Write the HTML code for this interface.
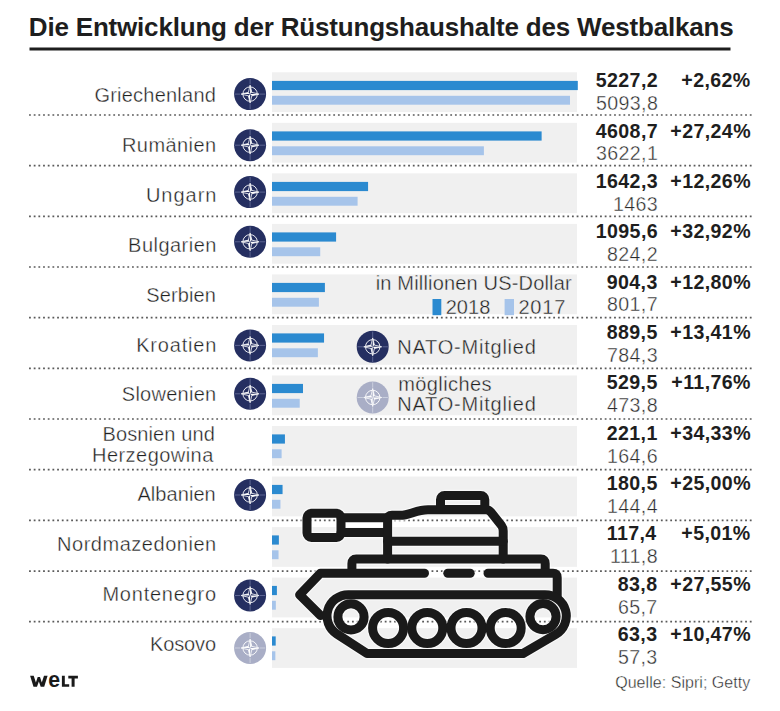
<!DOCTYPE html>
<html><head><meta charset="utf-8"><style>
html,body{margin:0;padding:0;background:#fff;}
body{width:780px;height:711px;overflow:hidden;}
svg{display:block;}
text{font-family:"Liberation Sans",sans-serif;}
</style></head><body>
<svg width="780" height="711" viewBox="0 0 780 711">
<rect x="29.5" y="47.5" width="701" height="3" fill="#1e1e1e"/>
<rect x="272" y="72.30" width="305" height="39.8" fill="#f0f0f0"/>
<rect x="272" y="122.83" width="305" height="39.8" fill="#f0f0f0"/>
<rect x="272" y="173.36" width="305" height="39.8" fill="#f0f0f0"/>
<rect x="272" y="223.89" width="305" height="39.8" fill="#f0f0f0"/>
<rect x="272" y="274.42" width="305" height="39.8" fill="#f0f0f0"/>
<rect x="272" y="324.95" width="305" height="39.8" fill="#f0f0f0"/>
<rect x="272" y="375.48" width="305" height="39.8" fill="#f0f0f0"/>
<rect x="272" y="426.01" width="305" height="39.8" fill="#f0f0f0"/>
<rect x="272" y="476.54" width="305" height="39.8" fill="#f0f0f0"/>
<rect x="272" y="527.07" width="305" height="39.8" fill="#f0f0f0"/>
<rect x="272" y="577.60" width="305" height="39.8" fill="#f0f0f0"/>
<rect x="272" y="628.13" width="305" height="39.8" fill="#f0f0f0"/>
<line x1="29.04" y1="115.00" x2="752" y2="115.00" stroke="#5a5a5a" stroke-width="1.7" stroke-dasharray="1.8 2.8803"/>
<line x1="29.04" y1="165.67" x2="752" y2="165.67" stroke="#5a5a5a" stroke-width="1.7" stroke-dasharray="1.8 2.8803"/>
<line x1="29.04" y1="216.34" x2="752" y2="216.34" stroke="#5a5a5a" stroke-width="1.7" stroke-dasharray="1.8 2.8803"/>
<line x1="29.04" y1="267.01" x2="752" y2="267.01" stroke="#5a5a5a" stroke-width="1.7" stroke-dasharray="1.8 2.8803"/>
<line x1="29.04" y1="317.68" x2="752" y2="317.68" stroke="#5a5a5a" stroke-width="1.7" stroke-dasharray="1.8 2.8803"/>
<line x1="29.04" y1="368.35" x2="752" y2="368.35" stroke="#5a5a5a" stroke-width="1.7" stroke-dasharray="1.8 2.8803"/>
<line x1="29.04" y1="419.02" x2="752" y2="419.02" stroke="#5a5a5a" stroke-width="1.7" stroke-dasharray="1.8 2.8803"/>
<line x1="29.04" y1="469.69" x2="752" y2="469.69" stroke="#5a5a5a" stroke-width="1.7" stroke-dasharray="1.8 2.8803"/>
<line x1="29.04" y1="520.36" x2="752" y2="520.36" stroke="#5a5a5a" stroke-width="1.7" stroke-dasharray="1.8 2.8803"/>
<line x1="29.04" y1="571.03" x2="752" y2="571.03" stroke="#5a5a5a" stroke-width="1.7" stroke-dasharray="1.8 2.8803"/>
<line x1="29.04" y1="621.70" x2="752" y2="621.70" stroke="#5a5a5a" stroke-width="1.7" stroke-dasharray="1.8 2.8803"/>
<rect x="272" y="80.90" width="305.80" height="9.2" fill="#2b8ad0"/>
<rect x="272" y="95.80" width="298.00" height="8.9" fill="#a6c4ea"/>
<circle cx="250.1" cy="94.1" r="16" fill="#252f61"/><path d="M250.1,78.89999999999999V84.3M250.1,103.89999999999999V109.3M234.9,94.1H240.29999999999998M259.9,94.1H265.3" stroke="#6f77a3" stroke-width="0.75"/><circle cx="250.1" cy="94.1" r="7.2" fill="none" stroke="#fff" stroke-width="0.9"/><path d="M250.1,85.1L251.79999999999998,92.39999999999999L259.1,94.1L251.79999999999998,95.8L250.1,103.1L248.4,95.8L241.1,94.1L248.4,92.39999999999999Z" fill="#252f61" stroke="#fff" stroke-width="0.8" stroke-linejoin="miter"/><path d="M250.1,94.1L250.1,85.1L251.79999999999998,92.39999999999999Z M250.1,94.1L259.1,94.1L251.79999999999998,95.8Z M250.1,94.1L250.1,103.1L248.4,95.8Z M250.1,94.1L241.1,94.1L248.4,92.39999999999999Z" fill="#fff"/>
<rect x="272" y="131.40" width="269.62" height="9.2" fill="#2b8ad0"/>
<rect x="272" y="146.30" width="211.90" height="8.9" fill="#a6c4ea"/>
<circle cx="250.1" cy="145.2" r="16" fill="#252f61"/><path d="M250.1,130.0V135.39999999999998M250.1,155.0V160.39999999999998M234.9,145.2H240.29999999999998M259.9,145.2H265.3" stroke="#6f77a3" stroke-width="0.75"/><circle cx="250.1" cy="145.2" r="7.2" fill="none" stroke="#fff" stroke-width="0.9"/><path d="M250.1,136.2L251.79999999999998,143.5L259.1,145.2L251.79999999999998,146.89999999999998L250.1,154.2L248.4,146.89999999999998L241.1,145.2L248.4,143.5Z" fill="#252f61" stroke="#fff" stroke-width="0.8" stroke-linejoin="miter"/><path d="M250.1,145.2L250.1,136.2L251.79999999999998,143.5Z M250.1,145.2L259.1,145.2L251.79999999999998,146.89999999999998Z M250.1,145.2L250.1,154.2L248.4,146.89999999999998Z M250.1,145.2L241.1,145.2L248.4,143.5Z" fill="#fff"/>
<rect x="272" y="181.90" width="96.08" height="9.2" fill="#2b8ad0"/>
<rect x="272" y="196.80" width="85.59" height="8.9" fill="#a6c4ea"/>
<circle cx="250.1" cy="192.1" r="16" fill="#252f61"/><path d="M250.1,176.9V182.29999999999998M250.1,201.9V207.29999999999998M234.9,192.1H240.29999999999998M259.9,192.1H265.3" stroke="#6f77a3" stroke-width="0.75"/><circle cx="250.1" cy="192.1" r="7.2" fill="none" stroke="#fff" stroke-width="0.9"/><path d="M250.1,183.1L251.79999999999998,190.4L259.1,192.1L251.79999999999998,193.79999999999998L250.1,201.1L248.4,193.79999999999998L241.1,192.1L248.4,190.4Z" fill="#252f61" stroke="#fff" stroke-width="0.8" stroke-linejoin="miter"/><path d="M250.1,192.1L250.1,183.1L251.79999999999998,190.4Z M250.1,192.1L259.1,192.1L251.79999999999998,193.79999999999998Z M250.1,192.1L250.1,201.1L248.4,193.79999999999998Z M250.1,192.1L241.1,192.1L248.4,190.4Z" fill="#fff"/>
<rect x="272" y="232.40" width="64.09" height="9.2" fill="#2b8ad0"/>
<rect x="272" y="247.30" width="48.22" height="8.9" fill="#a6c4ea"/>
<circle cx="250.1" cy="241.8" r="16" fill="#252f61"/><path d="M250.1,226.60000000000002V232.0M250.1,251.60000000000002V257.0M234.9,241.8H240.29999999999998M259.9,241.8H265.3" stroke="#6f77a3" stroke-width="0.75"/><circle cx="250.1" cy="241.8" r="7.2" fill="none" stroke="#fff" stroke-width="0.9"/><path d="M250.1,232.8L251.79999999999998,240.10000000000002L259.1,241.8L251.79999999999998,243.5L250.1,250.8L248.4,243.5L241.1,241.8L248.4,240.10000000000002Z" fill="#252f61" stroke="#fff" stroke-width="0.8" stroke-linejoin="miter"/><path d="M250.1,241.8L250.1,232.8L251.79999999999998,240.10000000000002Z M250.1,241.8L259.1,241.8L251.79999999999998,243.5Z M250.1,241.8L250.1,250.8L248.4,243.5Z M250.1,241.8L241.1,241.8L248.4,240.10000000000002Z" fill="#fff"/>
<rect x="272" y="282.90" width="52.90" height="9.2" fill="#2b8ad0"/>
<rect x="272" y="297.80" width="46.90" height="8.9" fill="#a6c4ea"/>
<rect x="272" y="333.40" width="52.04" height="9.2" fill="#2b8ad0"/>
<rect x="272" y="348.30" width="45.88" height="8.9" fill="#a6c4ea"/>
<circle cx="250.1" cy="345.4" r="16" fill="#252f61"/><path d="M250.1,330.2V335.59999999999997M250.1,355.2V360.59999999999997M234.9,345.4H240.29999999999998M259.9,345.4H265.3" stroke="#6f77a3" stroke-width="0.75"/><circle cx="250.1" cy="345.4" r="7.2" fill="none" stroke="#fff" stroke-width="0.9"/><path d="M250.1,336.4L251.79999999999998,343.7L259.1,345.4L251.79999999999998,347.09999999999997L250.1,354.4L248.4,347.09999999999997L241.1,345.4L248.4,343.7Z" fill="#252f61" stroke="#fff" stroke-width="0.8" stroke-linejoin="miter"/><path d="M250.1,345.4L250.1,336.4L251.79999999999998,343.7Z M250.1,345.4L259.1,345.4L251.79999999999998,347.09999999999997Z M250.1,345.4L250.1,354.4L248.4,347.09999999999997Z M250.1,345.4L241.1,345.4L248.4,343.7Z" fill="#fff"/>
<rect x="272" y="383.90" width="30.98" height="9.2" fill="#2b8ad0"/>
<rect x="272" y="398.80" width="27.72" height="8.9" fill="#a6c4ea"/>
<circle cx="250.1" cy="393.8" r="16" fill="#252f61"/><path d="M250.1,378.6V384.0M250.1,403.6V409.0M234.9,393.8H240.29999999999998M259.9,393.8H265.3" stroke="#6f77a3" stroke-width="0.75"/><circle cx="250.1" cy="393.8" r="7.2" fill="none" stroke="#fff" stroke-width="0.9"/><path d="M250.1,384.8L251.79999999999998,392.1L259.1,393.8L251.79999999999998,395.5L250.1,402.8L248.4,395.5L241.1,393.8L248.4,392.1Z" fill="#252f61" stroke="#fff" stroke-width="0.8" stroke-linejoin="miter"/><path d="M250.1,393.8L250.1,384.8L251.79999999999998,392.1Z M250.1,393.8L259.1,393.8L251.79999999999998,395.5Z M250.1,393.8L250.1,402.8L248.4,395.5Z M250.1,393.8L241.1,393.8L248.4,392.1Z" fill="#fff"/>
<rect x="272" y="434.40" width="12.93" height="9.2" fill="#2b8ad0"/>
<rect x="272" y="449.30" width="9.63" height="8.9" fill="#a6c4ea"/>
<rect x="272" y="484.90" width="10.56" height="9.2" fill="#2b8ad0"/>
<rect x="272" y="499.80" width="8.45" height="8.9" fill="#a6c4ea"/>
<circle cx="250.1" cy="495.0" r="16" fill="#252f61"/><path d="M250.1,479.8V485.2M250.1,504.8V510.2M234.9,495.0H240.29999999999998M259.9,495.0H265.3" stroke="#6f77a3" stroke-width="0.75"/><circle cx="250.1" cy="495.0" r="7.2" fill="none" stroke="#fff" stroke-width="0.9"/><path d="M250.1,486.0L251.79999999999998,493.3L259.1,495.0L251.79999999999998,496.7L250.1,504.0L248.4,496.7L241.1,495.0L248.4,493.3Z" fill="#252f61" stroke="#fff" stroke-width="0.8" stroke-linejoin="miter"/><path d="M250.1,495.0L250.1,486.0L251.79999999999998,493.3Z M250.1,495.0L259.1,495.0L251.79999999999998,496.7Z M250.1,495.0L250.1,504.0L248.4,496.7Z M250.1,495.0L241.1,495.0L248.4,493.3Z" fill="#fff"/>
<rect x="272" y="535.40" width="6.87" height="9.2" fill="#2b8ad0"/>
<rect x="272" y="550.30" width="6.54" height="8.9" fill="#a6c4ea"/>
<rect x="272" y="585.90" width="4.90" height="9.2" fill="#2b8ad0"/>
<rect x="272" y="600.80" width="3.84" height="8.9" fill="#a6c4ea"/>
<circle cx="250.1" cy="595.5" r="16" fill="#252f61"/><path d="M250.1,580.3V585.7M250.1,605.3V610.7M234.9,595.5H240.29999999999998M259.9,595.5H265.3" stroke="#6f77a3" stroke-width="0.75"/><circle cx="250.1" cy="595.5" r="7.2" fill="none" stroke="#fff" stroke-width="0.9"/><path d="M250.1,586.5L251.79999999999998,593.8L259.1,595.5L251.79999999999998,597.2L250.1,604.5L248.4,597.2L241.1,595.5L248.4,593.8Z" fill="#252f61" stroke="#fff" stroke-width="0.8" stroke-linejoin="miter"/><path d="M250.1,595.5L250.1,586.5L251.79999999999998,593.8Z M250.1,595.5L259.1,595.5L251.79999999999998,597.2Z M250.1,595.5L250.1,604.5L248.4,597.2Z M250.1,595.5L241.1,595.5L248.4,593.8Z" fill="#fff"/>
<rect x="272" y="636.40" width="3.70" height="9.2" fill="#2b8ad0"/>
<rect x="272" y="651.30" width="3.35" height="8.9" fill="#a6c4ea"/>
<circle cx="250.1" cy="648.0" r="16" fill="#a9aec6"/><path d="M250.1,632.8V638.2M250.1,657.8V663.2M234.9,648.0H240.29999999999998M259.9,648.0H265.3" stroke="#d6d9e5" stroke-width="0.75"/><circle cx="250.1" cy="648.0" r="7.2" fill="none" stroke="#fff" stroke-width="0.9"/><path d="M250.1,639.0L251.79999999999998,646.3L259.1,648.0L251.79999999999998,649.7L250.1,657.0L248.4,649.7L241.1,648.0L248.4,646.3Z" fill="#a9aec6" stroke="#fff" stroke-width="0.8" stroke-linejoin="miter"/><path d="M250.1,648.0L250.1,639.0L251.79999999999998,646.3Z M250.1,648.0L259.1,648.0L251.79999999999998,649.7Z M250.1,648.0L250.1,657.0L248.4,649.7Z M250.1,648.0L241.1,648.0L248.4,646.3Z" fill="#fff"/>
<rect x="432.5" y="299" width="8.8" height="16.2" fill="#2b8ad0"/>
<rect x="504.6" y="299" width="9.4" height="16.2" fill="#a6c4ea"/>
<circle cx="372.7" cy="346.8" r="16" fill="#252f61"/><path d="M372.7,331.6V337.0M372.7,356.6V362.0M357.5,346.8H362.9M382.5,346.8H387.9" stroke="#6f77a3" stroke-width="0.75"/><circle cx="372.7" cy="346.8" r="7.2" fill="none" stroke="#fff" stroke-width="0.9"/><path d="M372.7,337.8L374.4,345.1L381.7,346.8L374.4,348.5L372.7,355.8L371.0,348.5L363.7,346.8L371.0,345.1Z" fill="#252f61" stroke="#fff" stroke-width="0.8" stroke-linejoin="miter"/><path d="M372.7,346.8L372.7,337.8L374.4,345.1Z M372.7,346.8L381.7,346.8L374.4,348.5Z M372.7,346.8L372.7,355.8L371.0,348.5Z M372.7,346.8L363.7,346.8L371.0,345.1Z" fill="#fff"/>
<circle cx="372.7" cy="397.5" r="16" fill="#a9aec6"/><path d="M372.7,382.3V387.7M372.7,407.3V412.7M357.5,397.5H362.9M382.5,397.5H387.9" stroke="#d6d9e5" stroke-width="0.75"/><circle cx="372.7" cy="397.5" r="7.2" fill="none" stroke="#fff" stroke-width="0.9"/><path d="M372.7,388.5L374.4,395.8L381.7,397.5L374.4,399.2L372.7,406.5L371.0,399.2L363.7,397.5L371.0,395.8Z" fill="#a9aec6" stroke="#fff" stroke-width="0.8" stroke-linejoin="miter"/><path d="M372.7,397.5L372.7,388.5L374.4,395.8Z M372.7,397.5L381.7,397.5L374.4,399.2Z M372.7,397.5L372.7,406.5L371.0,399.2Z M372.7,397.5L363.7,397.5L371.0,395.8Z" fill="#fff"/>
<text x="28.80" y="36.00" font-size="26" font-weight="bold" letter-spacing="-0.188" fill="#1e1e1e">Die Entwicklung der Rüstungshaushalte des Westbalkans</text>
<text x="94.40" y="102.00" font-size="20" font-weight="normal" letter-spacing="0.227" fill="#202020" stroke="#fff" stroke-width="0.38">Griechenland</text>
<text x="595.70" y="87.20" font-size="19.6" font-weight="bold" letter-spacing="0.400" fill="#1e1e1e">5227,2</text>
<text x="681.30" y="87.20" font-size="19.6" font-weight="bold" letter-spacing="0.400" fill="#1e1e1e">+2,62%</text>
<text x="595.90" y="109.80" font-size="19.6" font-weight="normal" letter-spacing="0.400" fill="#2a2a2a" stroke="#fff" stroke-width="0.38">5093,8</text>
<text x="122.00" y="151.90" font-size="20" font-weight="normal" letter-spacing="0.414" fill="#202020" stroke="#fff" stroke-width="0.38">Rumänien</text>
<text x="595.70" y="137.55" font-size="19.6" font-weight="bold" letter-spacing="0.400" fill="#1e1e1e">4608,7</text>
<text x="670.30" y="137.55" font-size="19.6" font-weight="bold" letter-spacing="0.400" fill="#1e1e1e">+27,24%</text>
<text x="595.90" y="160.20" font-size="19.6" font-weight="normal" letter-spacing="0.400" fill="#2a2a2a" stroke="#fff" stroke-width="0.38">3622,1</text>
<text x="145.90" y="201.80" font-size="20" font-weight="normal" letter-spacing="1.000" fill="#202020" stroke="#fff" stroke-width="0.38">Ungarn</text>
<text x="595.70" y="187.90" font-size="19.6" font-weight="bold" letter-spacing="0.400" fill="#1e1e1e">1642,3</text>
<text x="670.30" y="187.90" font-size="19.6" font-weight="bold" letter-spacing="0.400" fill="#1e1e1e">+12,26%</text>
<text x="612.90" y="210.60" font-size="19.6" font-weight="normal" letter-spacing="0.400" fill="#2a2a2a" stroke="#fff" stroke-width="0.38">1463</text>
<text x="128.10" y="251.70" font-size="20" font-weight="normal" letter-spacing="0.475" fill="#202020" stroke="#fff" stroke-width="0.38">Bulgarien</text>
<text x="595.70" y="238.25" font-size="19.6" font-weight="bold" letter-spacing="0.400" fill="#1e1e1e">1095,6</text>
<text x="670.30" y="238.25" font-size="19.6" font-weight="bold" letter-spacing="0.400" fill="#1e1e1e">+32,92%</text>
<text x="606.90" y="261.00" font-size="19.6" font-weight="normal" letter-spacing="0.400" fill="#2a2a2a" stroke="#fff" stroke-width="0.38">824,2</text>
<text x="146.20" y="301.60" font-size="20" font-weight="normal" letter-spacing="0.117" fill="#202020" stroke="#fff" stroke-width="0.38">Serbien</text>
<text x="606.70" y="288.60" font-size="19.6" font-weight="bold" letter-spacing="0.400" fill="#1e1e1e">904,3</text>
<text x="670.30" y="288.60" font-size="19.6" font-weight="bold" letter-spacing="0.400" fill="#1e1e1e">+12,80%</text>
<text x="606.90" y="311.40" font-size="19.6" font-weight="normal" letter-spacing="0.400" fill="#2a2a2a" stroke="#fff" stroke-width="0.38">801,7</text>
<text x="136.20" y="351.50" font-size="20" font-weight="normal" letter-spacing="0.814" fill="#202020" stroke="#fff" stroke-width="0.38">Kroatien</text>
<text x="606.70" y="338.95" font-size="19.6" font-weight="bold" letter-spacing="0.400" fill="#1e1e1e">889,5</text>
<text x="670.30" y="338.95" font-size="19.6" font-weight="bold" letter-spacing="0.400" fill="#1e1e1e">+13,41%</text>
<text x="606.90" y="361.80" font-size="19.6" font-weight="normal" letter-spacing="0.400" fill="#2a2a2a" stroke="#fff" stroke-width="0.38">784,3</text>
<text x="121.80" y="401.40" font-size="20" font-weight="normal" letter-spacing="0.263" fill="#202020" stroke="#fff" stroke-width="0.38">Slowenien</text>
<text x="606.70" y="389.30" font-size="19.6" font-weight="bold" letter-spacing="0.400" fill="#1e1e1e">529,5</text>
<text x="671.30" y="389.30" font-size="19.6" font-weight="bold" letter-spacing="0.400" fill="#1e1e1e">+11,76%</text>
<text x="606.90" y="412.20" font-size="19.6" font-weight="normal" letter-spacing="0.400" fill="#2a2a2a" stroke="#fff" stroke-width="0.38">473,8</text>
<text x="102.60" y="440.90" font-size="20" font-weight="normal" letter-spacing="0.100" fill="#202020" stroke="#fff" stroke-width="0.38">Bosnien und</text>
<text x="92.00" y="461.50" font-size="20" font-weight="normal" letter-spacing="0.460" fill="#202020" stroke="#fff" stroke-width="0.38">Herzegowina</text>
<text x="606.70" y="439.65" font-size="19.6" font-weight="bold" letter-spacing="0.400" fill="#1e1e1e">221,1</text>
<text x="670.30" y="439.65" font-size="19.6" font-weight="bold" letter-spacing="0.400" fill="#1e1e1e">+34,33%</text>
<text x="606.90" y="462.60" font-size="19.6" font-weight="normal" letter-spacing="0.400" fill="#2a2a2a" stroke="#fff" stroke-width="0.38">164,6</text>
<text x="137.40" y="501.20" font-size="20" font-weight="normal" letter-spacing="0.071" fill="#202020" stroke="#fff" stroke-width="0.38">Albanien</text>
<text x="606.70" y="490.00" font-size="19.6" font-weight="bold" letter-spacing="0.400" fill="#1e1e1e">180,5</text>
<text x="670.30" y="490.00" font-size="19.6" font-weight="bold" letter-spacing="0.400" fill="#1e1e1e">+25,00%</text>
<text x="606.90" y="513.00" font-size="19.6" font-weight="normal" letter-spacing="0.400" fill="#2a2a2a" stroke="#fff" stroke-width="0.38">144,4</text>
<text x="57.00" y="551.10" font-size="20" font-weight="normal" letter-spacing="0.531" fill="#202020" stroke="#fff" stroke-width="0.38">Nordmazedonien</text>
<text x="606.70" y="540.35" font-size="19.6" font-weight="bold" letter-spacing="0.400" fill="#1e1e1e">117,4</text>
<text x="681.30" y="540.35" font-size="19.6" font-weight="bold" letter-spacing="0.400" fill="#1e1e1e">+5,01%</text>
<text x="609.90" y="563.40" font-size="19.6" font-weight="normal" letter-spacing="0.400" fill="#2a2a2a" stroke="#fff" stroke-width="0.38">111,8</text>
<text x="102.40" y="601.00" font-size="20" font-weight="normal" letter-spacing="0.778" fill="#202020" stroke="#fff" stroke-width="0.38">Montenegro</text>
<text x="617.70" y="590.70" font-size="19.6" font-weight="bold" letter-spacing="0.400" fill="#1e1e1e">83,8</text>
<text x="670.30" y="590.70" font-size="19.6" font-weight="bold" letter-spacing="0.400" fill="#1e1e1e">+27,55%</text>
<text x="617.90" y="613.80" font-size="19.6" font-weight="normal" letter-spacing="0.400" fill="#2a2a2a" stroke="#fff" stroke-width="0.38">65,7</text>
<text x="149.90" y="650.90" font-size="20" font-weight="normal" letter-spacing="-0.100" fill="#202020" stroke="#fff" stroke-width="0.38">Kosovo</text>
<text x="617.70" y="641.05" font-size="19.6" font-weight="bold" letter-spacing="0.400" fill="#1e1e1e">63,3</text>
<text x="670.30" y="641.05" font-size="19.6" font-weight="bold" letter-spacing="0.400" fill="#1e1e1e">+10,47%</text>
<text x="617.90" y="664.20" font-size="19.6" font-weight="normal" letter-spacing="0.400" fill="#2a2a2a" stroke="#fff" stroke-width="0.38">57,3</text>
<text x="375.70" y="290.20" font-size="20" font-weight="normal" letter-spacing="0.176" fill="#202020" stroke="#f0f0f0" stroke-width="0.38">in Millionen US-Dollar</text>
<text x="445.70" y="314.40" font-size="20" font-weight="normal" letter-spacing="0.033" fill="#202020" stroke="#f0f0f0" stroke-width="0.38">2018</text>
<text x="518.40" y="314.40" font-size="20" font-weight="normal" letter-spacing="0.833" fill="#202020" stroke="#f0f0f0" stroke-width="0.38">2017</text>
<text x="397.20" y="353.60" font-size="20" font-weight="normal" letter-spacing="0.783" fill="#202020" stroke="#f0f0f0" stroke-width="0.38">NATO-Mitglied</text>
<text x="398.20" y="390.90" font-size="20" font-weight="normal" letter-spacing="0.413" fill="#202020" stroke="#f0f0f0" stroke-width="0.38">mögliches</text>
<text x="397.20" y="411.40" font-size="20" font-weight="normal" letter-spacing="0.783" fill="#202020" stroke="#f0f0f0" stroke-width="0.38">NATO-Mitglied</text>
<text x="615.20" y="687.70" font-size="16" font-weight="normal" letter-spacing="0.042" fill="#202020" stroke="#fff" stroke-width="0.38">Quelle: Sipri; Getty</text>
<g fill="none" stroke="#fff" stroke-width="11.5" stroke-linecap="round" stroke-linejoin="round" opacity="0.6">
<rect x="307" y="513.3" width="34" height="24.2" rx="4.5"/>
<path d="M341,517.8H387.6M341,532.6H387.6"/>
<path d="M387.6,559V519.5Q387.6,515.3 392,515.3H400C410,515.3 416,509.7 428,509.7H486Q489,509.7 491,512.3L501.5,525.5Q503.2,527.7 503.2,531V559"/>
<path d="M387.6,541.3H503.2"/>
<rect x="440.5" y="495.6" width="44.3" height="14" rx="4"/>
<path d="M351.9,572V563.4Q351.9,559.1 356.2,559.1H540.9Q545.2,559.1 545.2,563.4V572"/>
<path d="M424.5,573.2H320.5L299.6,594.8L320.5,615.5"/>
<path d="M447.8,573.2H470.2"/>
<path d="M488,573.2H553Q557.2,573.2 557.2,577.4V596"/>
<path d="M348.3,594.7H545A21.3,21.3 0 0 1 555.74,634.4L523,653.5H367L336.72,633.87A21.3,21.3 0 0 1 348.3,594.7Z"/>
<circle cx="351" cy="616.9" r="13.1"/>
<circle cx="543" cy="616.6" r="13.1"/>
<circle cx="388.1" cy="628" r="15.5"/>
<circle cx="427.3" cy="628" r="15.5"/>
<circle cx="466.5" cy="628" r="15.5"/>
<circle cx="505.7" cy="628" r="15.5"/>
</g>
<g fill="none" stroke="#1a1a1a" stroke-width="9" stroke-linecap="round" stroke-linejoin="round">
<rect x="307" y="513.3" width="34" height="24.2" rx="4.5"/>
<path d="M341,517.8H387.6M341,532.6H387.6"/>
<path d="M387.6,559V519.5Q387.6,515.3 392,515.3H400C410,515.3 416,509.7 428,509.7H486Q489,509.7 491,512.3L501.5,525.5Q503.2,527.7 503.2,531V559"/>
<path d="M387.6,541.3H503.2"/>
<rect x="440.5" y="495.6" width="44.3" height="14" rx="4"/>
<path d="M351.9,572V563.4Q351.9,559.1 356.2,559.1H540.9Q545.2,559.1 545.2,563.4V572"/>
<path d="M424.5,573.2H320.5L299.6,594.8L320.5,615.5"/>
<path d="M447.8,573.2H470.2"/>
<path d="M488,573.2H553Q557.2,573.2 557.2,577.4V596"/>
<path d="M348.3,594.7H545A21.3,21.3 0 0 1 555.74,634.4L523,653.5H367L336.72,633.87A21.3,21.3 0 0 1 348.3,594.7Z"/>
<circle cx="351" cy="616.9" r="13.1"/>
<circle cx="543" cy="616.6" r="13.1"/>
<circle cx="388.1" cy="628" r="15.5"/>
<circle cx="427.3" cy="628" r="15.5"/>
<circle cx="466.5" cy="628" r="15.5"/>
<circle cx="505.7" cy="628" r="15.5"/>
</g>
<path d="M30.1,675.7H33.7L35.9,682.6L37.7,677H40L41.8,682.6L44,675.7H47.6L44.2,686.8H40.7L38.85,681.6L37,686.8H33.5Z" fill="#1a1a1a"/>
<text x="48.3" y="686.9" font-size="21.3" font-weight="bold" fill="#1a1a1a">e</text>
<path d="M61.9,675.8H64.8V684.2H69.2V686.8H61.9Z M68.3,675.8H77.9V678.4H74.6V686.8H71.6V678.4H68.3Z" fill="#1a1a1a"/>
</svg></body></html>
